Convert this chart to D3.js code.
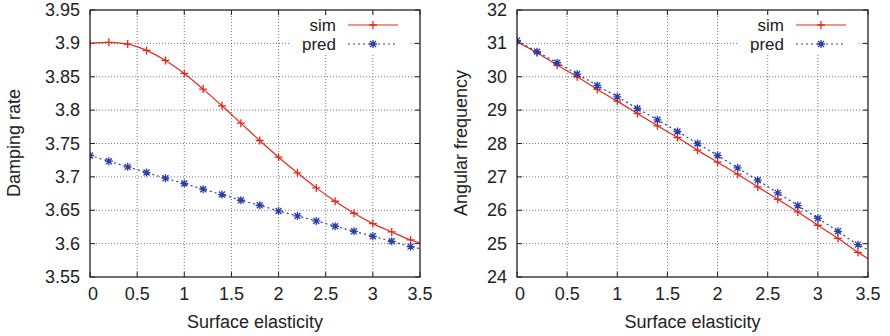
<!DOCTYPE html>
<meta charset="utf-8">
<head>
    <title></title>
    <script src="https://cdn.jsdelivr.net/npm/d3@7/dist/d3.min.js"></script>
</head>
<style>
    body{ margin:0; background:#fff; }
    text{ font-family: "Liberation Sans", Arial, sans-serif; font-size:18px; fill:#222; }
    text.leg{ font-size:17px; }
</style>
<svg width="890" height="336"></svg>
<script>
    // x positions (surface elasticity)
    var elasticity = [0,0.2,0.4,0.6,0.8,1.0,1.2,1.4,1.6,1.8,2.0,2.2,2.4,2.6,2.8,3.0,3.2,3.4,3.5];

    // damping rate
    var dampSim  = [3.900,3.9015,3.899,3.8895,3.8745,3.855,3.8315,3.8065,3.7805,3.7545,3.7295,3.706,3.6835,3.6635,3.6455,3.630,3.6175,3.6055,3.601];
    var dampPred = [3.732,3.7235,3.715,3.7065,3.698,3.690,3.6815,3.6735,3.665,3.6575,3.649,3.6415,3.634,3.626,3.6185,3.611,3.6035,3.5955,3.5925];

    // angular frequency
    var freqSim  = [31.05,30.72,30.35,30.00,29.62,29.27,28.90,28.53,28.18,27.80,27.44,27.08,26.70,26.33,25.95,25.55,25.16,24.74,24.55];
    var freqPred = [31.08,30.75,30.42,30.08,29.74,29.40,29.05,28.71,28.36,28.00,27.64,27.27,26.90,26.52,26.14,25.76,25.37,24.97,24.82];

    var xTicks = [0,0.5,1,1.5,2,2.5,3,3.5];
    var dampTicks = [3.55,3.6,3.65,3.7,3.75,3.8,3.85,3.9,3.95];
    var freqTicks = [24,25,26,27,28,29,30,31,32];

    var red = '#e3281f', blue = '#2b3da6';
    var svg = d3.select('svg');

    function panel(o){
        var g = svg.append('g');
        var x = d3.scaleLinear().domain([0,3.5]).range([o.left,o.right]);
        var y = d3.scaleLinear().domain(o.domain).range([277,10]);

        // grid
        g.selectAll('.gx').data(xTicks.slice(1,-1)).enter().append('line')
            .attr('x1',function(d){return x(d);}).attr('x2',function(d){return x(d);})
            .attr('y1',10).attr('y2',277)
            .style('stroke','#555').style('stroke-width',0.8).style('stroke-dasharray','1,2');
        g.selectAll('.gy').data(o.ticks.slice(1,-1)).enter().append('line')
            .attr('y1',function(d){return y(d);}).attr('y2',function(d){return y(d);})
            .attr('x1',o.left).attr('x2',o.right)
            .style('stroke','#555').style('stroke-width',0.8).style('stroke-dasharray','1,2');

        // legend background (opaque key)
        g.append('rect').attr('x',o.right-130).attr('y',14).attr('width',120).attr('height',40).style('fill','#fff');

        var fmt = o.fmt;
        // tick labels
        g.selectAll('.tx').data(xTicks).enter().append('text')
            .attr('x',function(d){return x(d)+ (d==0?3:0);}).attr('y',300)
            .attr('text-anchor','middle').text(function(d){return d3.format('')(d);});
        g.selectAll('.ty').data(o.ticks).enter().append('text')
            .attr('x',o.left-10).attr('y',function(d){return y(d)+6;})
            .attr('text-anchor','end').text(function(d){return fmt(d);});

        // tick marks, mirrored
        xTicks.forEach(function(d){
            g.append('line').attr('x1',x(d)).attr('x2',x(d)).attr('y1',277).attr('y2',272).style('stroke','#222');
            g.append('line').attr('x1',x(d)).attr('x2',x(d)).attr('y1',10).attr('y2',15).style('stroke','#222');
        });
        o.ticks.forEach(function(d){
            g.append('line').attr('y1',y(d)).attr('y2',y(d)).attr('x1',o.left).attr('x2',o.left+5).style('stroke','#222');
            g.append('line').attr('y1',y(d)).attr('y2',y(d)).attr('x1',o.right).attr('x2',o.right-5).style('stroke','#222');
        });

        // axis titles
        g.append('text').attr('x',(o.left+o.right)/2).attr('y',328).attr('text-anchor','middle').text('Surface elasticity');
        g.append('text').attr('transform','translate('+o.titleX+','+143+') rotate(-90)')
            .attr('text-anchor','middle').text(o.title);

        var series = [
            {name:'sim', vals:o.sim, color:red, dash:null, marker:'plus'},
            {name:'pred', vals:o.pred, color:blue, dash:'2,3', marker:'star'}
        ];

        var clip = 'clip'+o.id;
        g.append('clipPath').attr('id',clip).append('rect')
            .attr('x',o.left).attr('y',10).attr('width',o.right-o.left).attr('height',267);

        function marker(sel, cx, cy, type, color){
            var s = 4;
            var p = 'M'+(cx-s)+','+cy+'H'+(cx+s)+'M'+cx+','+(cy-s)+'V'+(cy+s);
            if(type=='star') p += 'M'+(cx-3)+','+(cy-3)+'L'+(cx+3)+','+(cy+3)+'M'+(cx-3)+','+(cy+3)+'L'+(cx+3)+','+(cy-3);
            sel.append('path').attr('d',p).style('stroke',color).style('stroke-width',1.3).style('fill','none');
        }

        series.forEach(function(s,si){
            var pts = elasticity.map(function(e,i){ return [e, s.vals[i]]; });
            var line = d3.line().x(function(d){return x(d[0]);}).y(function(d){return y(d[1]);})
                .curve(d3.curveMonotoneX);
            g.append('path').datum(pts).attr('d',line).attr('clip-path','url(#'+clip+')')
                .style('fill','none').style('stroke',s.color).style('stroke-width',1.2)
                .style('stroke-dasharray',s.dash);
            var mg = g.append('g').attr('clip-path','url(#'+clip+')');
            pts.filter(function(d){return d[0] < 3.5;}).forEach(function(d){
                marker(mg, x(d[0]), y(d[1]), s.marker, s.color);
            });

            // legend
            var ly = 25 + si*19;
            g.append('text').attr('class','leg').attr('x',o.right-84).attr('y',ly+6).attr('text-anchor','end').text(s.name);
            g.append('line').attr('x1',o.right-72).attr('x2',o.right-22).attr('y1',ly).attr('y2',ly)
                .style('stroke',s.color).style('stroke-width',1.2).style('stroke-dasharray',s.dash);
            marker(g, o.right-47, ly, s.marker, s.color);
        });

        // frame
        g.append('rect').attr('x',o.left).attr('y',10).attr('width',o.right-o.left).attr('height',267)
            .style('fill','none').style('stroke','#222').style('stroke-width',1.3);
    }

    panel({id:1, left:90, right:420, domain:[3.55,3.95], ticks:dampTicks, sim:dampSim, pred:dampPred,
           fmt:d3.format(''), title:'Damping rate', titleX:20});
    panel({id:2, left:517, right:868, domain:[24,32], ticks:freqTicks, sim:freqSim, pred:freqPred,
           fmt:d3.format('d'), title:'Angular frequency', titleX:467});
</script>
